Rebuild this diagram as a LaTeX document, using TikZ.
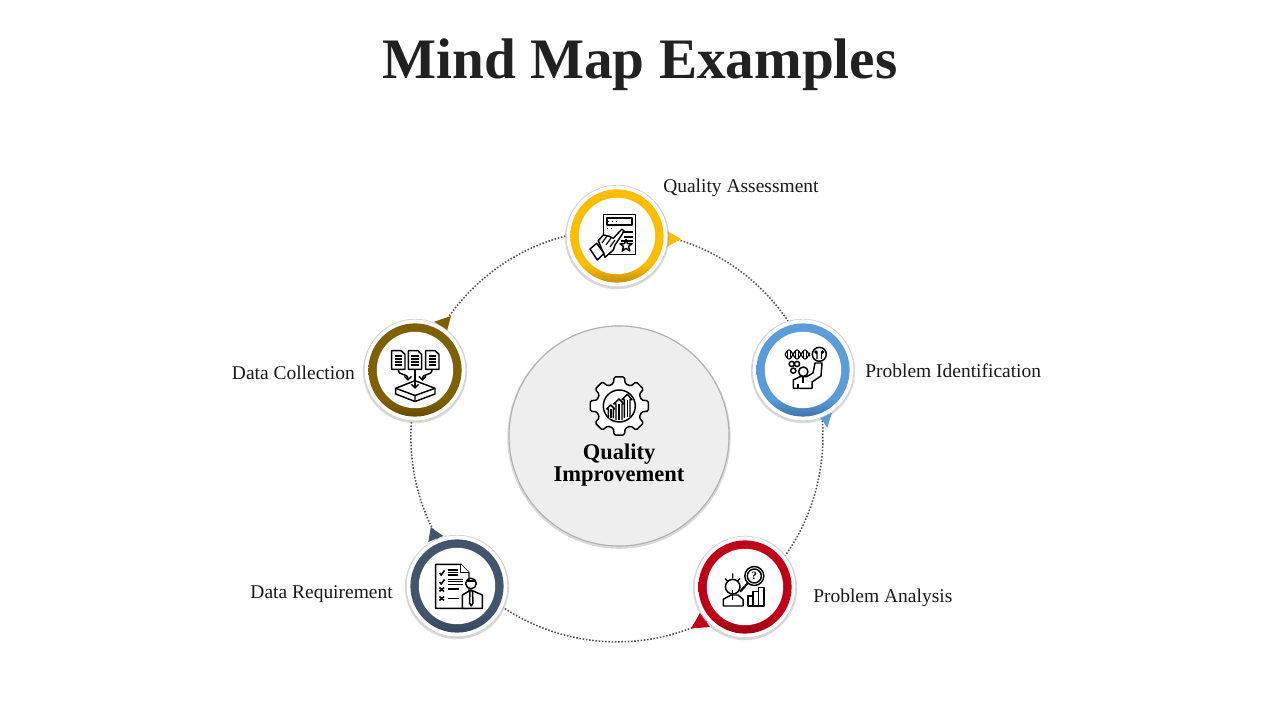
\documentclass[tikz,border=0pt]{standalone}
\usepackage{fontspec}
\setmainfont{Liberation Serif}
\usepackage{xcolor}
\usetikzlibrary{arrows.meta, positioning, calc, shadows}
\definecolor{themeyellow}{RGB}{252, 190, 0}
\definecolor{themeyellowdk}{RGB}{190, 140, 0}
\definecolor{themesky}{RGB}{92, 156, 216}
\definecolor{themeskydk}{RGB}{60, 112, 168}
\definecolor{themered}{RGB}{192, 0, 24}
\definecolor{themereddk}{RGB}{150, 0, 20}
\definecolor{themenavy}{RGB}{68, 84, 106}
\definecolor{themenavydk}{RGB}{52, 68, 92}
\definecolor{themebrown}{RGB}{127, 96, 0}
\definecolor{themebrowndk}{RGB}{100, 76, 0}
\pgfdeclarelayer{ringlayer}
\pgfsetlayers{ringlayer,main}
\pgfdeclareverticalshading[hubtop,hubbottom]{hubshade}{100bp}{color(0bp)=(hubbottom); color(26bp)=(hubbottom); color(36bp)=(hubtop); color(100bp)=(hubtop)}
\tikzset{
  pxscope/.style={shift={(0,720)}, y=-0.025cm},
  softshadow/.style={drop shadow={shadow xshift=0pt, shadow yshift=-0.8pt, shadow scale=#1, opacity=0.3}},
  hubnode/.style 2 args={circle, minimum size=2.54cm, inner sep=0pt, fill=white, draw=black!20, softshadow=1.025,
    path picture={
      \colorlet{hubtop}{#1}\colorlet{hubbottom}{#2}
      \shade[shading=hubshade] (path picture bounding box.center) circle (1.165cm);
      \fill[white] (path picture bounding box.center) circle (0.955cm);
    }},
  ringline/.style={draw=black!68, line width=1.1pt, dash pattern=on 1.1pt off 1.2pt},
  iconline/.style={draw=black, line width=1.05pt, fill=white, line join=round},
  iconthin/.style={draw=black, line width=0.8pt},
  iconbar/.style={draw=black, line width=1.5pt},
  steplabel/.style={font=\fontsize{13.85}{16}\selectfont, text=black!90, inner sep=0pt},
}
\begin{document}
\begin{tikzpicture}[x=0.025cm, y=0.025cm]
\useasboundingbox (0,0) rectangle (1280,720);
\begin{scope}[pxscope]
\node[font=\fontsize{40.7}{48}\selectfont\bfseries, text=black!87] (title) at (640,65) {Mind Map Examples};

\fill[themeyellow] (667,231) -- (681,239) -- (667,247) -- cycle;
\fill[themesky] (819,416) -- (827.3,427.5) -- (832,413) -- cycle;
\fill[themered] (691,628.5) -- (700,613) -- (710,627) -- cycle;
\fill[themenavy] (430.7,527.3) -- (428.3,542) -- (443.3,536) -- cycle;
\fill[themebrown] (451,316) -- (434.3,321.7) -- (446.7,332) -- cycle;

\node[circle, minimum size=5.5cm, inner sep=0pt, fill=black!6.5, draw=black!30, line width=0.8pt, softshadow=1.015] (core) at (619,436) {};
\node[font=\fontsize{16}{15.7}\selectfont\bfseries, align=center, inner sep=0pt] (corelabel) at (619,465) {Quality\\Improvement};

\node[hubnode={themeyellow}{themeyellowdk}] (assess) at (617,236) {};
\node[hubnode={themesky}{themeskydk}] (identify) at (803,370) {};
\node[hubnode={themered}{themereddk}] (analyse) at (745,587) {};
\node[hubnode={themenavy}{themenavydk}] (require) at (457,586) {};
\node[hubnode={themebrown}{themebrowndk}] (collect) at (415,370) {};

\node[steplabel, anchor=west] (assesslabel) at (663,188) {Quality Assessment};
\node[steplabel, anchor=west] (identifylabel) at (865,371) {Problem Identification};
\node[steplabel, anchor=west] (analyselabel) at (813,598) {Problem Analysis};
\node[steplabel, anchor=east] (requirelabel) at (393,594) {Data Requirement};
\node[steplabel, anchor=east] (collectlabel) at (355,373) {Data Collection};

% gear
\begin{scope}[shift={(619.3,406)}]
\draw[iconline, rounded corners=1pt] (-105:23) \foreach \a in {-90,-45,...,225}{
  -- (\a-15:23) -- (\a-10:29.5) -- (\a+10:29.5) -- (\a+15:23)} -- cycle;
\draw[iconline] (0,0) circle (16);
\end{scope}
\draw[iconline] (608.3,418.3) -- (608.3,409) -- (606.7,409) -- (610.7,405) -- (614.7,409) -- (613.3,409) -- (613.3,418.3);
\draw[iconline] (616,420) -- (616,404) -- (613.7,404) -- (619,399) -- (624,404) -- (622,404) -- (622,420);
\draw[iconline] (624.3,418) -- (624.3,399.7) -- (622,399.7) -- (627.3,394.3) -- (632,399.7) -- (630,399.7) -- (630,418);
\draw[iconthin] (611,409) -- (611,418) (619,404) -- (619,420) (627.3,400) -- (627.3,417);

% assess icon
\draw[iconline] (603.3,214.3) rectangle (635.7,254.3);
\draw[iconline] (607,218) rectangle (632,225);
\draw[iconthin, dotted] (608,221.5) -- (616,221.5) (607,228.5) -- (614,228.5);
\draw[iconthin] (622,232) -- (633,232) (624,237) -- (633,237) (621,241) -- (633,241);
\draw[iconline] (598.3,240.7) -- (603.3,235) -- (608.3,236) -- (613.3,238.3) -- (621.7,229.3) -- (624,230.7) -- (621.7,235) -- (615,245) -- (613.3,250) -- (605,257.3) -- cycle;
\draw[iconthin] (602,243) -- (607,236) (606,245) -- (611,238) (610,247) -- (615,240);
\draw[iconline] (590,249) -- (596.7,243.3) -- (604,253.3) -- (597.3,260) -- cycle;
\draw[iconline] (626,239.5) -- (627.5,243.5) -- (632,243.8) -- (628.5,246.5) -- (629.8,251) -- (626,248.4) -- (622.2,251) -- (623.5,246.5) -- (620,243.8) -- (624.5,243.5) -- cycle;

% identify icon
\draw[iconthin] plot[domain=785:810, samples=40] (\x, {354.5+4.5*sin((\x-785)*22.5)});
\draw[iconthin] plot[domain=785:810, samples=40] (\x, {354.5-4.5*sin((\x-785)*22.5)});
\draw[iconthin, line width=0.55pt] \foreach \x in {787.5,790.5,795.5,798.5,803.5,806.5}{(\x,{354.5+4.5*sin((\x-785)*22.5)}) -- (\x,{354.5-4.5*sin((\x-785)*22.5)})};
\draw[iconline] (819.3,354.3) circle (7);
\draw[iconthin] (817,359) -- (817,353) (821.5,359) -- (821.5,353) (816,352) circle (1) (822.5,352) circle (1);
\foreach \x/\y in {791.7/364,797/364,793.3/370.7}{\draw[iconline] (\x,\y) circle (2.6);}
\draw[iconline] (793.3,388.3) -- (793.3,380) -- (800,376.7) -- (806.7,376.7) -- (813,373) -- (815,363) -- (822,363) -- (821,376) -- (812,382) -- (812,388.3) -- cycle;
\draw[iconline] (803.3,371.7) circle (4.7);
\draw[iconthin] (803,377) -- (803,383) (798,384) -- (798,388);

% analyse icon
\draw[iconline] (723.3,606) -- (723.3,599.3) -- (731,595) -- (738,595) -- (743,599.3) -- (743,606) -- cycle;
\draw[iconline] (732.7,586.7) circle (7.3);
\draw[iconthin] (732.7,590) -- (732.7,600);
\draw[iconthin] (732.7,573.5) -- (732.7,578.5) (725,578.5) -- (728,581.5) (740,578.5) -- (737,581.5);
\draw[iconbar] (740,591.7) -- (748,583);
\draw[iconline] (754.3,576) circle (9.5);
\draw[iconline] (754.3,576) circle (7);
\node[font=\fontsize{8}{8}\selectfont\bfseries, inner sep=0pt] (askmark) at (754.3,576) {?};
\draw[iconline] (748,606) rectangle (753,596);
\draw[iconline] (753,606) rectangle (758.5,591.7);
\draw[iconline] (758.5,606) rectangle (764,587.3);

% require icon
\draw[iconline] (435.7,564.3) -- (460.7,564.3) -- (469,572.7) -- (469,608.3) -- (435.7,608.3) -- cycle;
\draw[iconline] (460.7,564.3) -- (460.7,572.7) -- (469,572.7);
\draw[iconthin, line width=1.1pt] (439.5,573) -- (441.2,575) -- (444.5,570.5) (439.5,582) -- (441.2,584) -- (444.5,579.5);
\draw[iconthin, line width=1.1pt] (439.5,587.5) -- (444,591.5) (444,587.5) -- (439.5,591.5) (439.5,596.5) -- (444,600.5) (444,596.5) -- (439.5,600.5);
\draw[iconthin, line width=1pt] (447.7,570) -- (458,570) (447.7,572.7) -- (458,572.7) (447.7,575) -- (458,575);
\draw[iconthin, line width=1pt] (447.7,579.3) -- (463,579.3) (447.7,581.7) -- (463,581.7) (447.7,584.3) -- (463,584.3);
\draw[iconthin] (448,589) -- (459,589) (448,598.5) -- (459,598.5);
\draw[iconline] (462.3,608.3) -- (462.3,595) -- (471,590) -- (482.3,595) -- (482.3,608.3) -- cycle;
\draw[iconline] (471,583.5) circle (5.3);
\draw[iconthin, line width=1.4pt] (466,581) -- (476,581);
\draw[iconline] (470,591) -- (472.5,591) -- (473,603) -- (471.2,606) -- (469.5,603) -- cycle;

% collect icon
\foreach \x in {391.7,408.3,425.7}{
  \draw[iconline] (\x,350.7) -- (\x+9.5,350.7) -- (\x+13.3,354.5) -- (\x+13.3,369.3) -- (\x,369.3) -- cycle;
  \draw[iconthin, line width=1pt] (\x+3,356) -- (\x+10.5,356) (\x+3,359) -- (\x+10.5,359) (\x+3,362) -- (\x+10.5,362) (\x+3,365) -- (\x+10.5,365);
}
\draw[iconline] (395.7,388.3) -- (415,380.7) -- (435,388.3) -- (435,394) -- (415,401.5) -- (395.7,394) -- cycle;
\draw[iconline, fill=none] (395.7,388.3) -- (415,395.5) -- (435,388.3) (415,395.5) -- (415,401.5);
\draw[iconline, fill=none, -{Straight Barb[length=2.5pt]}] (398.3,369.3) .. controls (398.3,377) and (408,372) .. (408,381);
\draw[iconline, fill=none, -{Straight Barb[length=2.5pt]}] (415,369.3) -- (415,389);
\draw[iconline, fill=none, -{Straight Barb[length=2.5pt]}] (432,369.3) .. controls (432,377) and (422.5,372) .. (422.5,381);
\end{scope}

\begin{pgfonlayer}{ringlayer}
\draw[ringline] (assess.-1) to[out=-14, in=124, looseness=0.88] (identify.107);
\draw[ringline] (identify.-68) to[out=-85, in=54.6, looseness=0.88] (analyse.38);
\draw[ringline] (analyse.222) to[out=-154, in=-33.6, looseness=0.91] (require.-25);
\draw[ringline] (require.112) to[out=120, in=-94, looseness=0.88] (collect.266);
\draw[ringline] (collect.58) to[out=58, in=-166, looseness=0.88] (assess.180);
\end{pgfonlayer}
\end{tikzpicture}
\end{document}
